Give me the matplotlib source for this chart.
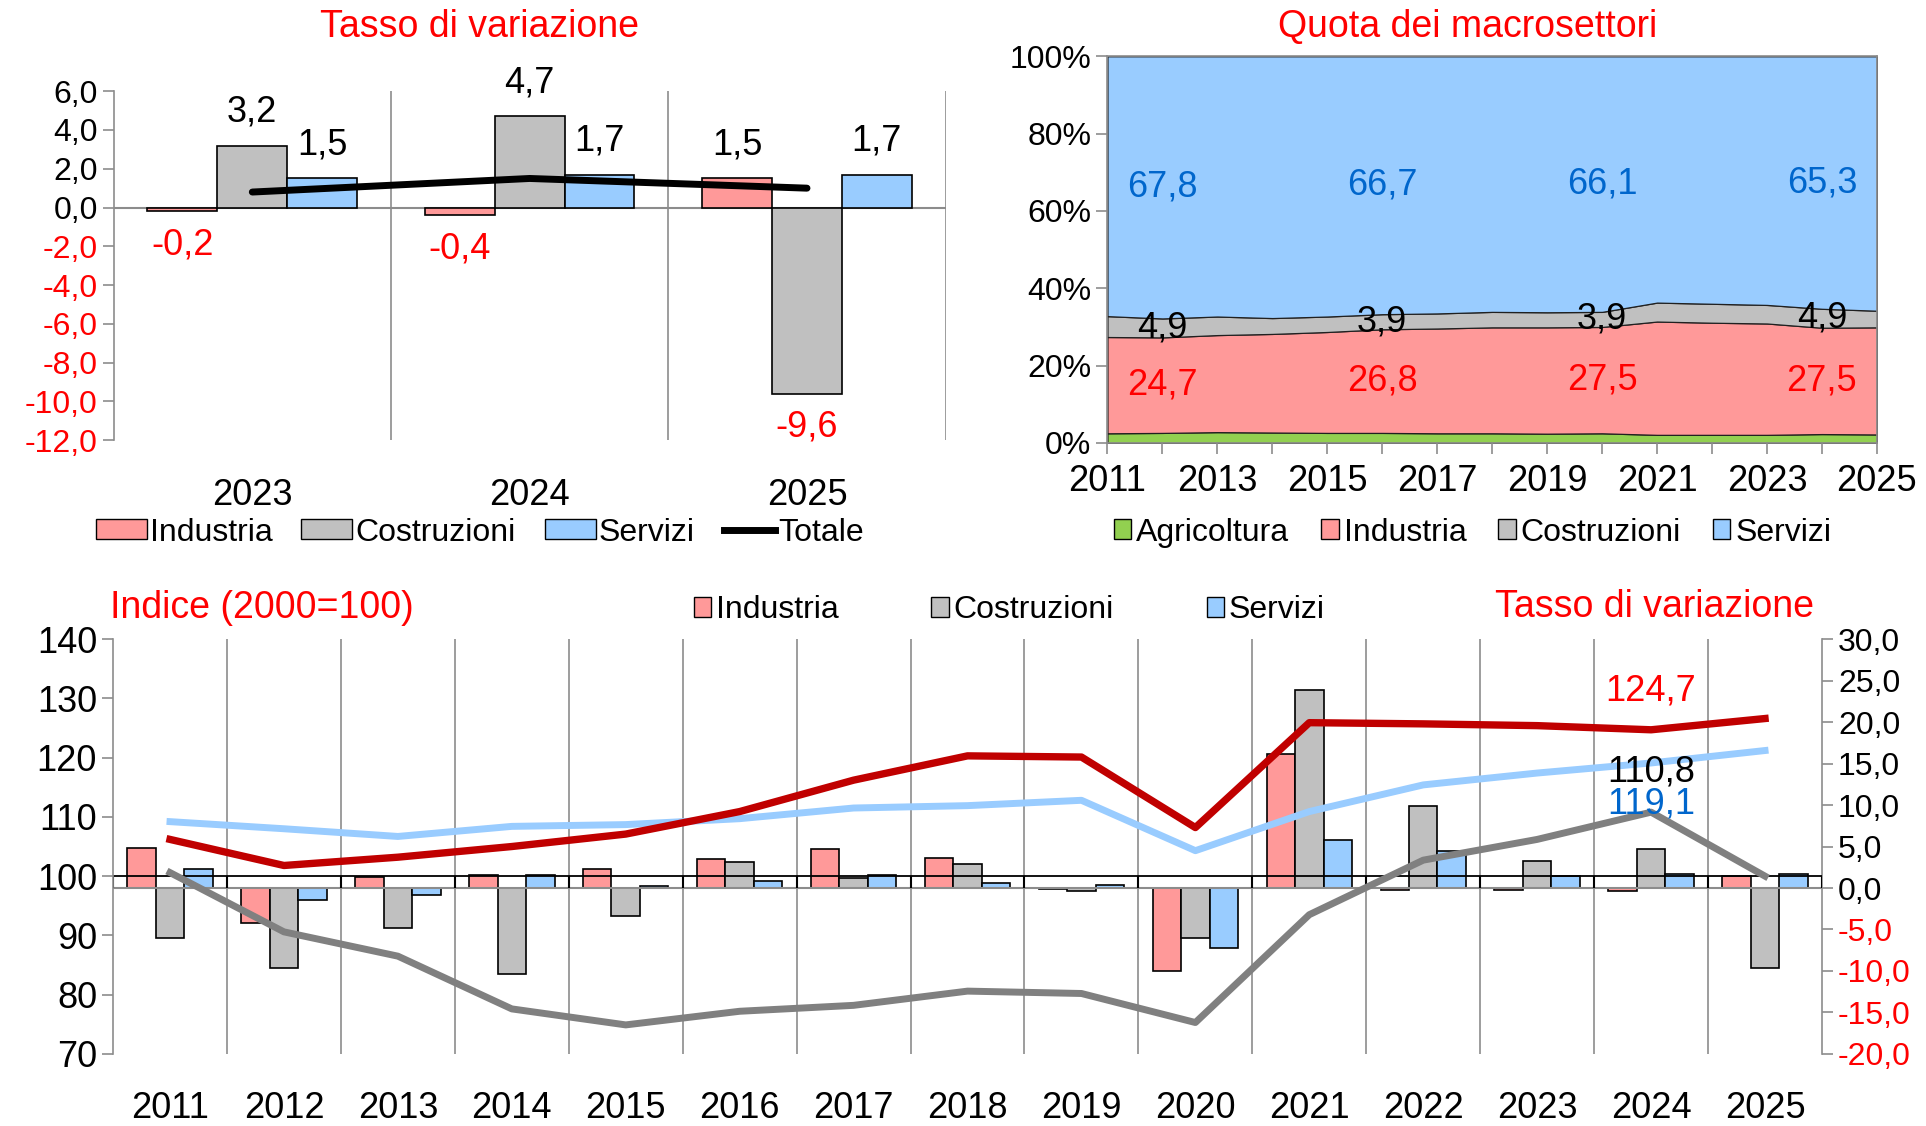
import numpy as np
import matplotlib
matplotlib.use('Agg')
from matplotlib import pyplot as plt
from matplotlib.patches import Patch
from matplotlib.lines import Line2D

plt.rcParams['font.family'] = ['Liberation Sans', 'DejaVu Sans']

# --- data ---
# top left: tassi di variazione 2023-2025
tl_years = ['2023', '2024', '2025']
tl_ind = [-0.2, -0.4, 1.5]
tl_costr = [3.2, 4.7, -9.6]
tl_serv = [1.5, 1.7, 1.7]
tl_tot = [0.8, 1.5, 1.0]

# top right: quota dei macrosettori 2011-2025
qr_years = list(range(2011, 2026))
qr_agri = [2.5, 2.6, 2.8, 2.7, 2.6, 2.6, 2.5, 2.5, 2.4, 2.5, 2.1, 2.1, 2.1, 2.3, 2.2]
qr_ind = [24.9, 24.7, 25.1, 25.5, 26.1, 26.8, 27.1, 27.4, 27.5, 27.5, 29.3, 29.0, 28.8, 27.5, 27.7]
qr_costr = [5.4, 4.9, 4.8, 4.1, 4.0, 3.9, 3.9, 4.0, 3.9, 3.9, 4.9, 4.9, 4.8, 4.9, 4.3]
qr_serv = [67.2, 67.8, 67.3, 67.7, 67.3, 66.7, 66.5, 66.1, 66.2, 66.1, 63.7, 64.0, 64.3, 65.3, 65.8]
qr_label_years = [2012, 2016, 2020, 2024]

# bottom: indici (2000=100) e tassi di variazione 2011-2025
b_years = [str(y) for y in range(2011, 2026)]
idx_ind = [106.2, 101.8, 103.2, 105.0, 107.1, 110.9, 116.2, 120.3, 120.1, 108.2, 125.9, 125.7, 125.4, 124.7, 126.6]
idx_serv = [109.2, 108.0, 106.7, 108.4, 108.7, 109.7, 111.5, 111.9, 112.8, 104.3, 110.9, 115.4, 117.4, 119.1, 121.2]
idx_costr = [100.6, 90.6, 86.5, 77.6, 74.9, 77.2, 78.2, 80.6, 80.2, 75.3, 93.5, 102.7, 106.2, 110.8, 100.0]
var_ind = [4.8, -4.2, 1.3, 1.6, 2.3, 3.5, 4.7, 3.6, -0.1, -10.0, 16.1, -0.2, -0.2, -0.4, 1.5]
var_costr = [-6.0, -9.6, -4.8, -10.4, -3.4, 3.1, 1.2, 2.9, -0.4, -6.0, 23.9, 9.9, 3.2, 4.7, -9.6]
var_serv = [2.3, -1.4, -0.9, 1.6, 0.2, 0.9, 1.6, 0.6, 0.4, -7.2, 5.8, 4.5, 1.5, 1.7, 1.7]

c_ind = '#FF9999'
c_costr = '#C0C0C0'
c_serv = '#99CCFF'
c_agri = '#92D050'
grey = '#8c8c8c'
red = '#FF0000'
blue = '#0066CC'

FS_YT = 23
FS_XT = 26
FS_LAB = 26
FS_TIT = 27
FS_LEG = 23

fig = plt.figure(figsize=(19.26, 11.26), dpi=100)

# ================= top left =================
ax1 = fig.add_axes([0.059, 0.609, 0.432, 0.310])
x = np.arange(len(tl_years))
w = 0.252
for off, vals, col in [(-w, tl_ind, c_ind), (0, tl_costr, c_costr), (w, tl_serv, c_serv)]:
    ax1.bar(x + off, vals, w, color=col, edgecolor='black', linewidth=1.2, zorder=2)
    for xi, v in zip(x + off, vals):
        ax1.annotate(f'{v:.1f}'.replace('.', ','), (xi, v), xytext=(0, 24 if v > 0 else -24),
                     textcoords='offset points', ha='center', va='center', fontsize=FS_LAB,
                     color='black' if v > 0 else red)
ax1.plot(x, tl_tot, color='black', lw=5, zorder=3, solid_capstyle='round')
ax1.axhline(0, color=grey, lw=1.5, zorder=1)
ax1.vlines([0.5, 1.5, 2.5], -12, 6, color=grey, lw=1.2, zorder=0)
ax1.set_xlim(-0.5, 2.5)
ax1.set_ylim(-12, 6)
yt = np.arange(-12, 7, 2)
ax1.set_yticks(yt, [f'{v:.1f}'.replace('.', ',') for v in yt])
for lab, v in zip(ax1.get_yticklabels(), yt):
    lab.set_color(red if v < 0 else 'black')
ax1.set_xticks(x, tl_years)
ax1.tick_params(axis='x', length=0, pad=27, labelsize=FS_XT)
ax1.tick_params(axis='y', length=8, width=1.2, color=grey, labelsize=FS_YT)
for s in ['top', 'right', 'bottom']:
    ax1.spines[s].set_visible(False)
ax1.spines['left'].set_color(grey)
ax1.spines['left'].set_linewidth(1.2)

fig.text(0.249, 0.976, 'Tasso di variazione', color=red, fontsize=FS_TIT, ha='center', va='center')
h1 = [Patch(facecolor=c_ind, edgecolor='black', label='Industria'),
      Patch(facecolor=c_costr, edgecolor='black', label='Costruzioni'),
      Patch(facecolor=c_serv, edgecolor='black', label='Servizi'),
      Line2D([], [], color='black', lw=5, label='Totale')]
fig.legend(handles=h1, loc='center', bbox_to_anchor=(0.249, 0.527), ncol=4, frameon=False,
           fontsize=FS_LEG, handlelength=1.6, handleheight=0.6, handletextpad=0.1, columnspacing=0.9)

# ================= top right =================
ax3 = fig.add_axes([0.575, 0.6066, 0.3995, 0.3434])
ax3.stackplot(qr_years, qr_agri, qr_ind, qr_costr, qr_serv,
              colors=[c_agri, c_ind, c_costr, c_serv], edgecolor='#202020', linewidth=0.9)
ax3.set_xlim(2011, 2025)
ax3.set_ylim(0, 100)
cum = np.cumsum(np.array([qr_agri, qr_ind, qr_costr, qr_serv]), axis=0)
for yr in qr_label_years:
    i = qr_years.index(yr)
    for k, vals, col in [(1, qr_ind, red), (2, qr_costr, 'black'), (3, qr_serv, blue)]:
        ymid = cum[k, i] - vals[i] / 2
        ax3.text(yr, ymid, f'{vals[i]:.1f}'.replace('.', ','), color=col, fontsize=FS_LAB,
                 ha='center', va='center')
ax3.set_yticks(range(0, 101, 20), [f'{v}%' for v in range(0, 101, 20)])
ax3.set_xticks(qr_years, [str(y) if (y - 2011) % 2 == 0 else '' for y in qr_years])
ax3.tick_params(axis='x', length=8, width=1.2, color=grey, pad=7, labelsize=FS_XT)
ax3.tick_params(axis='y', length=8, width=1.2, color=grey, labelsize=FS_YT)
for s in ax3.spines.values():
    s.set_color(grey)
    s.set_linewidth(1.2)

fig.text(0.762, 0.976, 'Quota dei macrosettori', color=red, fontsize=FS_TIT, ha='center', va='center')
h3 = [Patch(facecolor=c_agri, edgecolor='black', label='Agricoltura'),
      Patch(facecolor=c_ind, edgecolor='black', label='Industria'),
      Patch(facecolor=c_costr, edgecolor='black', label='Costruzioni'),
      Patch(facecolor=c_serv, edgecolor='black', label='Servizi')]
fig.legend(handles=h3, loc='center', bbox_to_anchor=(0.7645, 0.527), ncol=4, frameon=False,
           fontsize=FS_LEG, handlelength=0.55, handleheight=0.6, handletextpad=0.15, columnspacing=1.0)

# ================= bottom =================
ax = fig.add_axes([0.0587, 0.064, 0.8873, 0.3684])
xb = np.arange(len(b_years))
wb = 0.25
for off, vals, col in [(-wb, var_ind, c_ind), (0, var_costr, c_costr), (wb, var_serv, c_serv)]:
    ax.bar(xb + off, vals, wb, color=col, edgecolor='black', linewidth=1.2, zorder=2)
ax.axhline(0, color=grey, lw=1.5, zorder=3)
ax.vlines(np.arange(0.5, 14, 1), -20, 30, color=grey, lw=1.2, zorder=0)
ax.set_xlim(-0.5, 14.5)
ax.set_ylim(-20, 30)

ax2 = ax.twinx()
ax2.set_ylim(70, 140)

# rates on the right, index on the left
ax.yaxis.tick_right()
ryt = np.arange(-20, 31, 5)
ax.set_yticks(ryt, [f'{v:.1f}'.replace('.', ',') for v in ryt])
for lab, v in zip(ax.get_yticklabels(), ryt):
    lab.set_color(red if v < 0 else 'black')
ax.set_xticks(xb, b_years)
ax.tick_params(axis='x', length=0, pad=27, labelsize=FS_XT)
ax.tick_params(axis='y', length=8, width=1.2, color=grey, labelsize=FS_YT)
for s in ['top', 'bottom', 'left']:
    ax.spines[s].set_visible(False)
ax.spines['right'].set_visible(True)
ax.spines['right'].set_color(grey)
ax.spines['right'].set_linewidth(1.2)

ax2.yaxis.tick_left()
ax2.axhline(100, color='black', lw=1.3, zorder=1)
ax2.vlines(np.arange(-0.5, 15, 1), 98, 100, color='black', lw=1.5, zorder=1)
ax2.plot(xb, idx_costr, color='#808080', lw=5, zorder=3)
ax2.plot(xb, idx_serv, color=c_serv, lw=5, zorder=3)
ax2.plot(xb, idx_ind, color='#C00000', lw=5.3, zorder=4)
ax2.set_yticks(range(70, 141, 10))
ax2.tick_params(axis='y', length=8, width=1.2, color=grey, labelsize=FS_XT)
for s in ['top', 'bottom', 'right']:
    ax2.spines[s].set_visible(False)
ax2.spines['left'].set_visible(True)
ax2.spines['left'].set_color(grey)
ax2.spines['left'].set_linewidth(1.2)
i24 = b_years.index('2024')
ax2.text(xb[i24], 131.3, f'{idx_ind[i24]:.1f}'.replace('.', ','), color=red, fontsize=FS_LAB, ha='center', va='center')
ax2.text(xb[i24], 117.6, f'{idx_costr[i24]:.1f}'.replace('.', ','), color='black', fontsize=FS_LAB, ha='center', va='center')
ax2.text(xb[i24], 112.2, f'{idx_serv[i24]:.1f}'.replace('.', ','), color=blue, fontsize=FS_LAB, ha='center', va='center')

fig.text(0.057, 0.460, 'Indice (2000=100)', color=red, fontsize=FS_TIT, ha='left', va='center')
fig.text(0.942, 0.461, 'Tasso di variazione', color=red, fontsize=FS_TIT, ha='right', va='center')
hb = [Patch(facecolor=c_ind, edgecolor='black', label='Industria'),
      Patch(facecolor=c_costr, edgecolor='black', label='Costruzioni'),
      Patch(facecolor=c_serv, edgecolor='black', label='Servizi')]
fig.legend(handles=hb, loc='center', bbox_to_anchor=(0.524, 0.458), ncol=3, frameon=False,
           fontsize=FS_LEG, handlelength=0.55, handleheight=0.6, handletextpad=0.15, columnspacing=2.9)

fig.savefig('out.png', dpi=100)
